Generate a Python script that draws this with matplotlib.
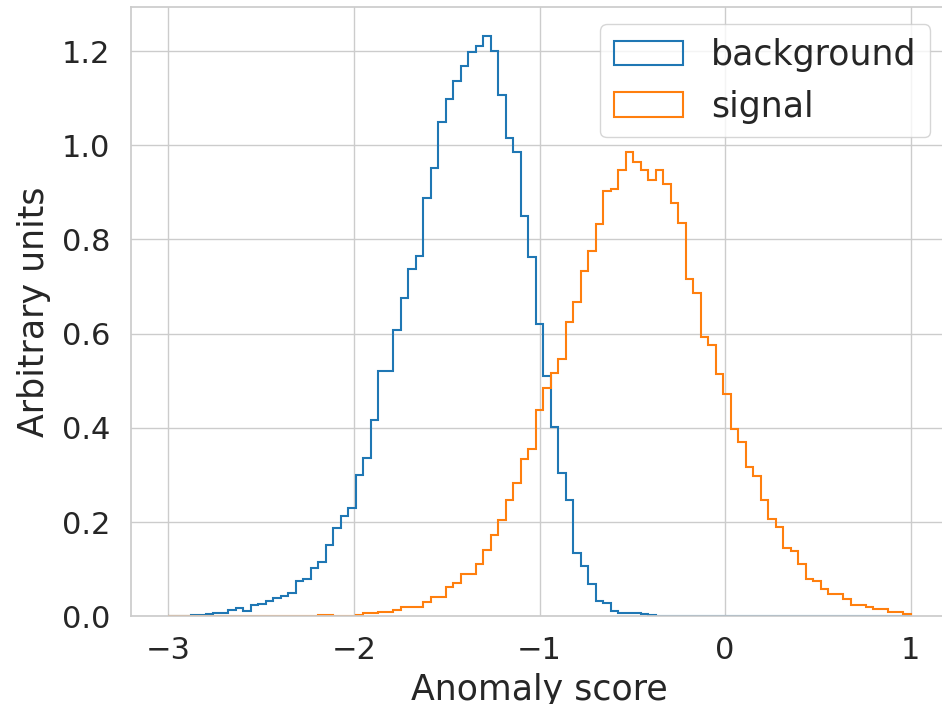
import numpy as np
import matplotlib
matplotlib.use("Agg")
import matplotlib.pyplot as plt
import seaborn as sns

# common binning for both samples
edges = np.linspace(-3, 1, 100)

# normalised counts per bin (density)
background = [0.0, 0.0, 0.001, 0.002, 0.002, 0.005, 0.006, 0.007, 0.013, 0.018,
              0.011, 0.023, 0.027, 0.033, 0.038, 0.042, 0.050, 0.074, 0.079, 0.103,
              0.115, 0.152, 0.188, 0.212, 0.230, 0.299, 0.337, 0.417, 0.520, 0.520,
              0.607, 0.676, 0.738, 0.765, 0.887, 0.951, 1.049, 1.098, 1.137, 1.168,
              1.197, 1.211, 1.232, 1.200, 1.106, 1.015, 0.986, 0.850, 0.762, 0.620,
              0.510, 0.402, 0.305, 0.246, 0.134, 0.107, 0.068, 0.033, 0.028, 0.011,
              0.006, 0.006, 0.006, 0.005, 0.002] + [0.0] * 34

signal = [0.0] * 20 + [
              0.002, 0.002, 0.0, 0.0, 0.0, 0.003, 0.008, 0.008, 0.010, 0.010,
              0.013, 0.020, 0.020, 0.020, 0.030, 0.040, 0.040, 0.063, 0.071, 0.089,
              0.089, 0.110, 0.140, 0.172, 0.205, 0.246, 0.283, 0.333, 0.355, 0.439,
              0.485, 0.517, 0.547, 0.625, 0.667, 0.733, 0.776, 0.832, 0.903, 0.908,
              0.947, 0.986, 0.965, 0.947, 0.927, 0.947, 0.918, 0.878, 0.836, 0.717,
              0.687, 0.593, 0.576, 0.514, 0.471, 0.397, 0.369, 0.317, 0.298, 0.246,
              0.207, 0.190, 0.145, 0.138, 0.110, 0.079, 0.074, 0.057, 0.047, 0.047,
              0.036, 0.023, 0.023, 0.020, 0.015, 0.015, 0.009, 0.009, 0.004]

sns.set_theme(style="whitegrid")
plt.rcParams["font.family"] = ["DejaVu Sans"]

centers = 0.5 * (edges[:-1] + edges[1:])

fig = plt.figure(figsize=(9.42, 7.04), dpi=100)
ax = fig.add_axes([0.1393, 0.1246, 0.8669, 0.8655])

ax.hist(centers, bins=edges, weights=background, histtype="step",
        linewidth=1.5, color="#1f77b4", label="background")
ax.hist(centers, bins=edges, weights=signal, histtype="step",
        linewidth=1.5, color="#ff7f0e", label="signal")

ax.set_xlabel("Anomaly score", fontsize=25, labelpad=6)
ax.set_ylabel("Arbitrary units", fontsize=25, labelpad=8)
ax.tick_params(axis="both", labelsize=22, length=0, colors=".15")
ax.tick_params(axis="x", pad=14)
ax.tick_params(axis="y", pad=15)
ax.set_xticks([-3, -2, -1, 0, 1])

ax.legend(loc="upper right", fontsize=25)

fig.savefig("out.png", dpi=100)
